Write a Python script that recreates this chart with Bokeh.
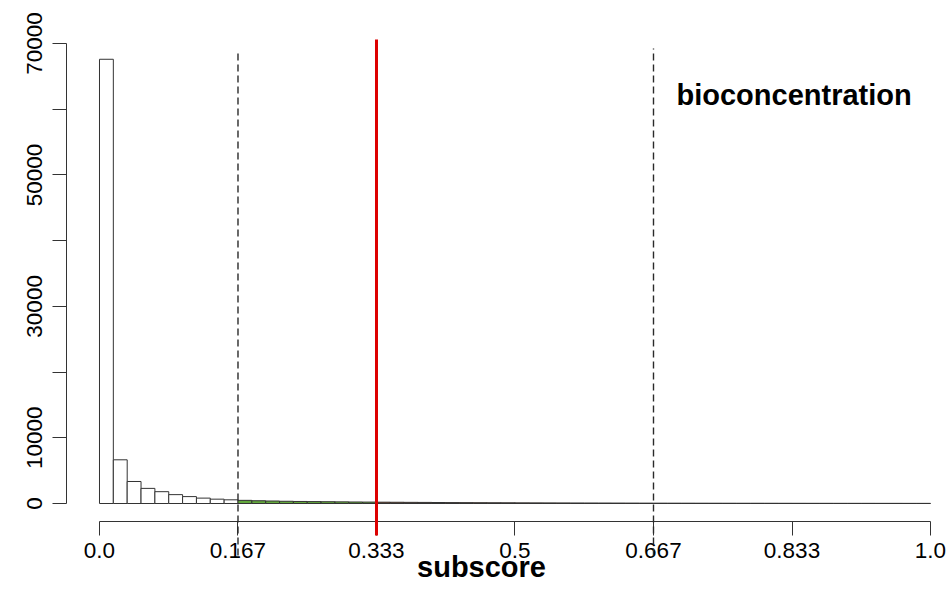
import numpy as np
from bokeh.plotting import figure
from bokeh.models import Range1d, FixedTicker, Label, ColumnDataSource
from bokeh.core.properties import value
from bokeh.embed import file_html
from bokeh.resources import INLINE

# ---- data ----
n_bins = 60
counts = [67600, 6650, 3350, 2300, 1800, 1350, 1050, 820, 660, 560,
          480, 420, 380, 340, 310, 290, 270, 250, 230, 215,
          200, 190, 175, 165, 150, 140, 130, 125, 115, 110,
          100, 95, 90, 85, 80, 75, 70, 65, 60, 55,
          52, 50, 47, 45, 42, 40, 38, 36, 34, 32,
          30, 28, 27, 26, 25, 24, 23, 22, 21, 20]
bin_group = (["none"] * 10 + ["low"] * 10 + ["mid"] * 20 + ["high"] * 20)
x_ticks = [0.0, 1/6, 1/3, 0.5, 2/3, 5/6, 1.0]
x_tick_labels = ["0.0", "0.167", "0.333", "0.5", "0.667", "0.833", "1.0"]
y_ticks = [0, 10000, 20000, 30000, 40000, 50000, 60000, 70000]
y_tick_labels = ["0", "10000", "", "30000", "", "50000", "", "70000"]
dashed_x = [1/6, 2/3]
red_x = 1/3
title_text = "bioconcentration"
xlabel_text = "subscore"

# ---- styles ----
group_colors = {"none": "#ffffff", "low": "#62a83c", "mid": "#7a3a14", "high": "#2a2a2a"}
mid_alt = "#c8641e"
colors = [group_colors[g] for g in bin_group]
for i in (27, 34):
    colors[i] = mid_alt

edges = np.linspace(0.0, 1.0, n_bins + 1)
src = ColumnDataSource(dict(left=edges[:-1], right=edges[1:], top=counts,
                            bottom=[0] * n_bins, color=colors))

FONT = "Liberation Sans"

p = figure(width=948, height=600, output_backend="svg", toolbar_location=None,
           title=None,
           x_range=Range1d(-0.0397, 1.01203), y_range=Range1d(-2739, 71978),
           min_border_left=66, min_border_right=8, min_border_top=30,
           min_border_bottom=79)
p.outline_line_color = None
p.xgrid.visible = False
p.ygrid.visible = False
p.background_fill_color = "white"
p.border_fill_color = "white"

p.quad(left="left", right="right", top="top", bottom="bottom", source=src,
       fill_color="color", line_color="#333333", line_width=1)

# vertical reference lines
for xv, top in zip(dashed_x, [68630, 69240]):
    r = p.segment(x0=[xv], y0=[-7913], x1=[xv], y1=[top], line_color="#2a2a2a",
                  line_width=1.4, line_dash="7 4")
    r.level = "overlay"
r = p.segment(x0=[red_x], y0=[-4870], x1=[red_x], y1=[70610], line_color="#dd0000",
              line_width=3)
r.level = "overlay"

# axes
xa = p.xaxis[0]
xa.ticker = FixedTicker(ticks=x_ticks)
xa.major_label_overrides = {t: l for t, l in zip(x_ticks, x_tick_labels)}
xa.bounds = (0, 1)
xa.minor_tick_line_color = None
xa.major_tick_out = 14
xa.major_tick_in = 0
xa.major_label_standoff = 7
xa.axis_line_color = "#333333"
xa.major_tick_line_color = "#333333"
xa.major_label_text_font = FONT
xa.major_label_text_font_size = "22.5px"
xa.major_label_text_color = "black"

ya = p.yaxis[0]
ya.ticker = FixedTicker(ticks=y_ticks)
ya.major_label_overrides = {t: l for t, l in zip(y_ticks, y_tick_labels)}
ya.bounds = (0, 70000)
ya.minor_tick_line_color = None
ya.major_tick_out = 14
ya.major_tick_in = 0
ya.major_label_standoff = 10
ya.major_label_orientation = "vertical"
ya.axis_line_color = "#333333"
ya.major_tick_line_color = "#333333"
ya.major_label_text_font = FONT
ya.major_label_text_font_size = "22.5px"
ya.major_label_text_color = "black"

p.add_layout(Label(x=0.6943, y=62087, text=title_text, text_font=FONT,
                   text_font_style="bold", text_font_size="29px",
                   text_align="left", text_baseline="middle", text_color="black"))

t = p.text(x=[0.4597], y=[-9587], text=[xlabel_text], text_font=value(FONT),
           text_font_style="bold", text_font_size="29px",
           text_align="center", text_baseline="middle", text_color="black")
t.level = "overlay"

open("out.html", "w").write(file_html(p, INLINE))
